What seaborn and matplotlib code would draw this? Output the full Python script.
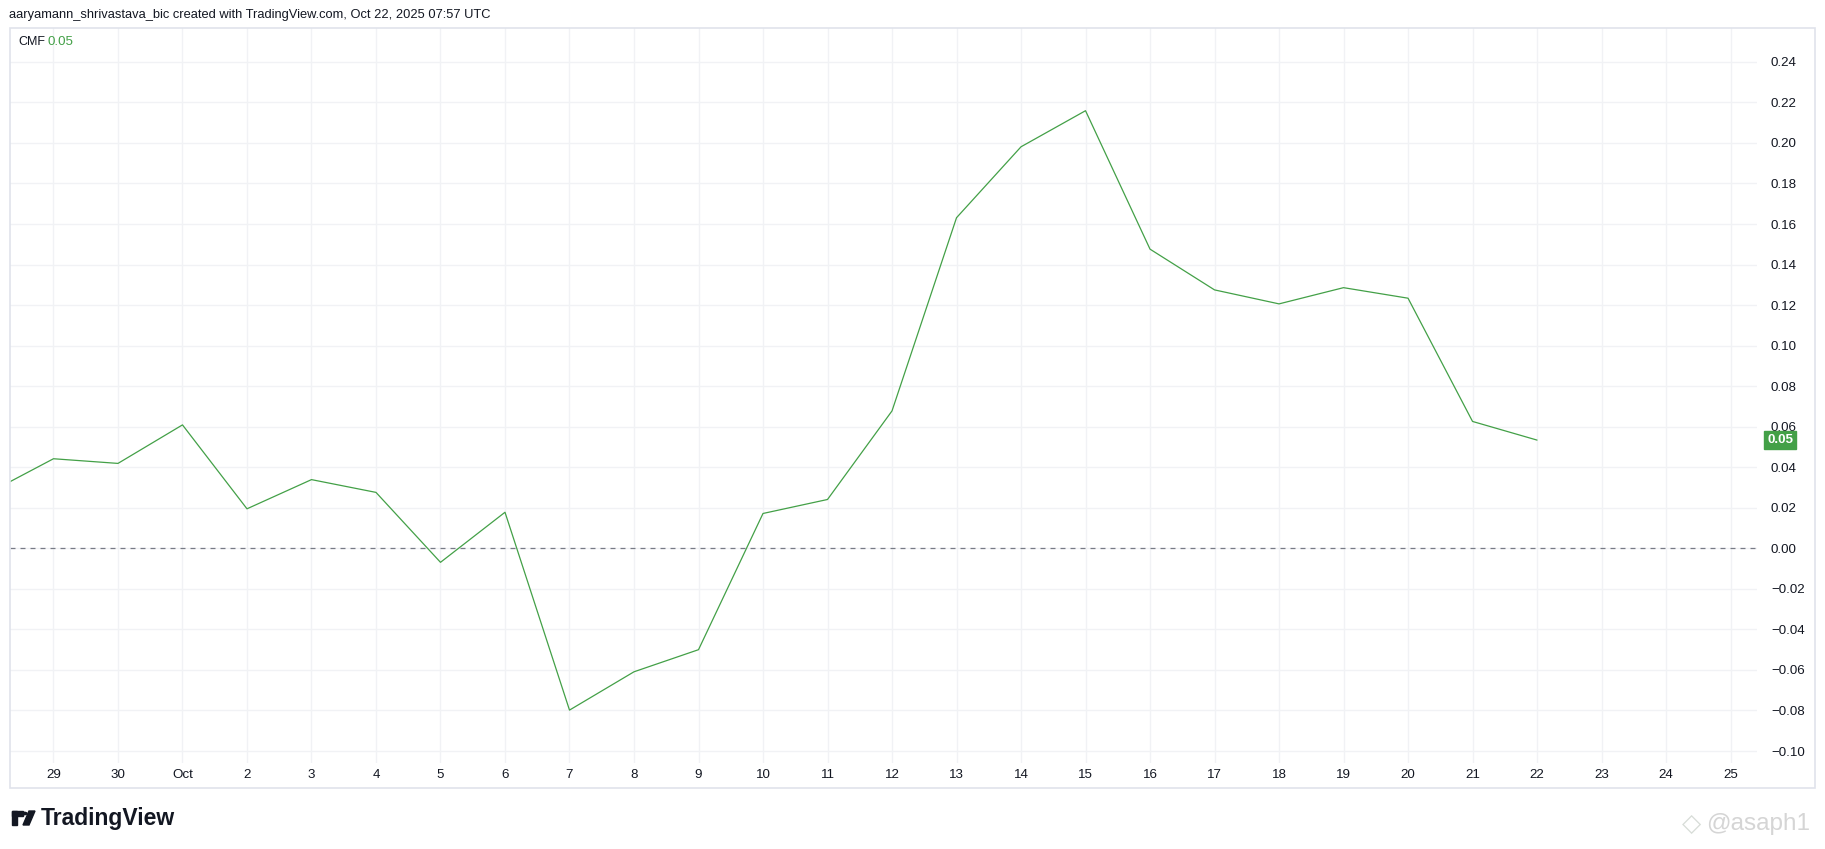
import matplotlib
matplotlib.use("Agg")
import matplotlib.pyplot as plt
import matplotlib.dates as mdates
import matplotlib.transforms as mtransforms
from matplotlib.patches import Rectangle
import seaborn as sns
import pandas as pd
import numpy as np

# ---------------- data ----------------
dates = pd.date_range("2025-09-28", "2025-10-22", freq="D")
cmf_values = [0.0274, 0.0442, 0.0419, 0.0609, 0.0195, 0.0339, 0.0276, -0.0069,
              0.0178, -0.0798, -0.0609, -0.0500, 0.0172, 0.0241, 0.0678, 0.1631,
              0.1981, 0.2159, 0.1476, 0.1275, 0.1206, 0.1286, 0.1234, 0.0626, 0.0534]
y_ticks = [-0.10, -0.08, -0.06, -0.04, -0.02, 0.00, 0.02, 0.04, 0.06, 0.08,
           0.10, 0.12, 0.14, 0.16, 0.18, 0.20, 0.22, 0.24]
tick_dates = pd.date_range("2025-09-29", "2025-10-25", freq="D")
last_label = "0.05"
header = "aaryamann_shrivastava_bic created with TradingView.com, Oct 22, 2025 07:57 UTC"
indicator_name = "CMF"

df = pd.DataFrame({"date": dates, "cmf": cmf_values})

# ---------------- style ----------------
sns.set_theme(style="white")
plt.rcParams["font.family"] = ["Liberation Sans", "DejaVu Sans"]
TXT = "#131722"
GREEN = "#43A047"
GRID = "#f1f2f5"

W, H = 1825, 849
fig = plt.figure(figsize=(W / 100, H / 100), dpi=100)
fig.patch.set_facecolor("white")

# panel border
fig.add_artist(Rectangle((10 / W, 1 - 788 / H), (1815 - 10) / W, (788 - 28) / H,
                         transform=fig.transFigure, fill=False, edgecolor="#e0e3eb",
                         linewidth=1.2))

ax = fig.add_axes([10 / W, 1 - 763 / H, (1757 - 10) / W, (763 - 28) / H])
ax.set_facecolor("white")

sns.lineplot(data=df, x="date", y="cmf", ax=ax, color=GREEN, linewidth=0.9)

ax.axhline(0, color="#787B86", linewidth=0.9, linestyle=(0, (4, 4)), zorder=1)

# axes limits
x0 = pd.Timestamp("2025-09-29") - pd.Timedelta(days=0.674)
x1 = pd.Timestamp("2025-09-29") + pd.Timedelta(days=26.41)
ax.set_xlim(x0, x1)
ax.set_ylim(-0.1059, 0.2567)

ax.set_xticks(tick_dates)
ax.set_xticklabels([d.strftime("%b") if d.day == 1 else str(d.day) for d in tick_dates])
ax.set_yticks(y_ticks)
ax.set_yticklabels([f"{v:.2f}".replace("-", "\u2212") for v in y_ticks])
ax.yaxis.tick_right()
ax.tick_params(axis="y", length=0, pad=10, labelsize=9.6, colors=TXT)
ax.tick_params(axis="x", length=0, pad=4, labelsize=9.6, colors=TXT)
for lab in ax.get_yticklabels():
    lab.set_horizontalalignment("left")
ax.grid(True, color=GRID, linewidth=1.0)
for s in ax.spines.values():
    s.set_visible(False)
ax.set_xlabel("")
ax.set_ylabel("")

# last value label
trans = mtransforms.blended_transform_factory(fig.transFigure, ax.transData)
ax.text(1767 / W, cmf_values[-1], last_label, transform=trans, ha="left", va="center",
        color="white", fontsize=9.6, fontweight="bold",
        bbox=dict(boxstyle="square,pad=0.2", facecolor=GREEN, edgecolor=GREEN))

# header and legend
fig.text(9 / W, 1 - 15 / H, header, ha="left", va="center", fontsize=9.3, color=TXT)
fig.text(18 / W, 1 - 42 / H, indicator_name, ha="left", va="center", fontsize=9, color=TXT)
fig.text(48 / W, 1 - 42 / H, last_label, ha="left", va="center", fontsize=9.6, color=GREEN)

# TradingView logo
fig.add_artist(Rectangle((12 / W, 1 - 825 / H), 5 / W, 14 / H, transform=fig.transFigure,
                         color=TXT))
fig.add_artist(Rectangle((12 / W, 1 - 816 / H), 11 / W, 5 / H, transform=fig.transFigure,
                         color=TXT))
fig.add_artist(plt.Circle((24.5 / W, 1 - 813.5 / H), 2.5 / W, transform=fig.transFigure,
                          color=TXT))
fig.add_artist(plt.Polygon([[29 / W, 1 - 811 / H], [35 / W, 1 - 811 / H],
                            [29 / W, 1 - 825 / H], [23 / W, 1 - 825 / H]],
                           transform=fig.transFigure, color=TXT))
fig.text(41 / W, 1 - 818 / H, "TradingView", ha="left", va="center", fontsize=16.5,
         fontweight="bold", color=TXT)

# watermark
fig.text(1692 / W, 1 - 824 / H, "\u25c7", ha="center", va="center", fontsize=18,
         color="#d8ddd8", family=["DejaVu Sans"])
fig.text(1706 / W, 1 - 824 / H, "@asaph1", ha="left", va="center", fontsize=17.5,
         color="#d5d5d5")

fig.savefig("out.png", dpi=100, facecolor="white")
